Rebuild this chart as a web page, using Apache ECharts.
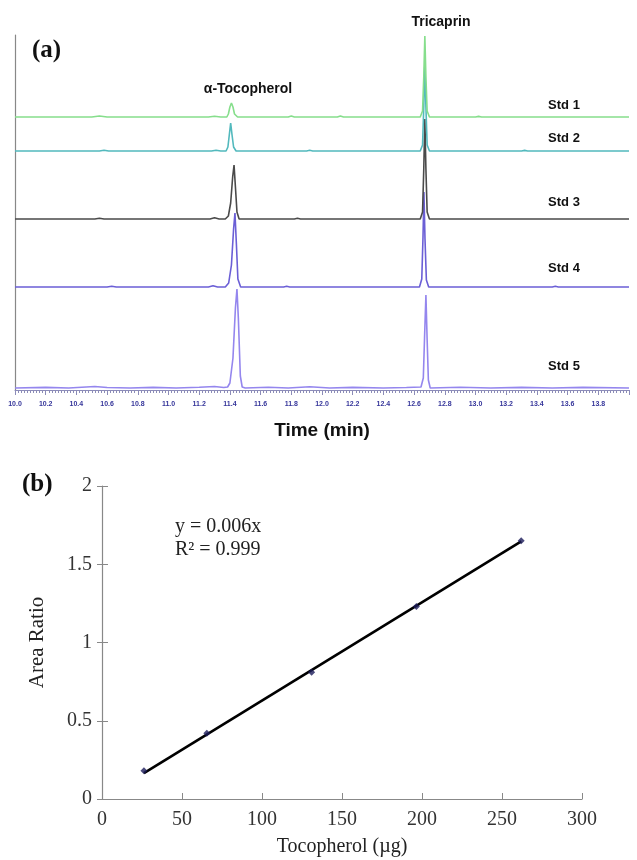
<!DOCTYPE html>
<html>
<head>
<meta charset="utf-8">
<script src="https://cdn.jsdelivr.net/npm/echarts@6/dist/echarts.min.js"></script>
<style>
html,body{margin:0;padding:0;background:#fff;}
#chart{width:637px;height:860px;}
</style>
</head>
<body>
<div id="chart"></div>
<script>
// ---------- (a) chromatogram data: [time (min), signal] ----------
const traceNames = ['Std 1', 'Std 2', 'Std 3', 'Std 4', 'Std 5'];
const traceOffsets = [273, 239, 171, 103, 2];
const std1Points = [[10.0,0],[10.5,0],[10.55,1],[10.6,0],[11.26,0],[11.3,0.8],[11.34,0],[11.38,0],[11.39,3],[11.40,10],[11.41,14],[11.42,10],[11.43,3],[11.45,0],[11.78,0],[11.8,1],[11.82,0],[12.1,0],[12.12,1],[12.14,0],[12.64,0],[12.655,6],[12.663,40],[12.67,81],[12.677,40],[12.685,6],[12.70,0],[13.0,0],[13.02,0.6],[13.04,0],[14.0,0]];
const std2Points = [[10.0,0],[10.55,0],[10.58,0.8],[10.61,0],[11.28,0],[11.31,0.8],[11.34,0],[11.375,0],[11.387,4],[11.396,16],[11.405,28],[11.414,16],[11.424,4],[11.44,0],[11.9,0],[11.92,0.7],[11.94,0],[12.64,0],[12.655,6],[12.663,44],[12.67,88],[12.677,44],[12.685,6],[12.70,0],[13.3,0],[13.32,0.6],[13.34,0],[14.0,0]];
const std3Points = [[10.0,0],[10.52,0],[10.55,0.8],[10.58,0],[11.27,0],[11.3,1.2],[11.33,0],[11.37,0],[11.39,3],[11.405,16],[11.418,42],[11.427,54],[11.436,32],[11.446,7],[11.46,0],[11.82,0],[11.84,0.8],[11.86,0],[12.64,0],[12.655,7],[12.663,50],[12.67,100],[12.677,50],[12.685,7],[12.70,0],[14.0,0]];
const std4Points = [[10.0,0],[10.6,0],[10.63,0.8],[10.66,0],[11.26,0],[11.29,1.2],[11.32,0],[11.37,0],[11.392,4],[11.41,22],[11.424,58],[11.433,74],[11.442,44],[11.452,8],[11.47,0],[11.75,0],[11.77,0.7],[11.79,0],[12.635,0],[12.65,8],[12.658,50],[12.664,95],[12.671,48],[12.68,7],[12.695,0],[13.5,0],[13.52,0.7],[13.54,0],[14.0,0]];
const std5Points = [[10.0,0],[10.2,0.6],[10.35,0],[10.52,1.5],[10.6,0.5],[10.75,0],[10.9,0.6],[11.05,0],[11.2,0.8],[11.3,1.5],[11.36,0.5],[11.385,1],[11.40,5],[11.42,30],[11.436,80],[11.446,99],[11.455,70],[11.468,12],[11.48,1],[11.5,0],[11.65,0.8],[11.78,0],[11.92,1.2],[12.05,0],[12.2,0.6],[12.4,0],[12.55,0.5],[12.645,1],[12.66,10],[12.668,50],[12.677,93],[12.685,48],[12.693,8],[12.705,0],[12.9,0.7],[13.1,0],[13.3,0.6],[13.5,0],[13.7,0.6],[14.0,0]];
const traceData = [std1Points, std2Points, std3Points, std4Points, std5Points];
const traceColors = ['#86de8c', '#52b9bd', '#4a4a4a', '#6b5fd6', '#9486ee'];
const timeTickLabels = ['10.0','10.2','10.4','10.6','10.8','11.0','11.2','11.4','11.6','11.8','12.0','12.2','12.4','12.6','12.8','13.0','13.2','13.4','13.6','13.8'];

// ---------- (b) calibration data ----------
const tocopherolUg = [26.2, 65.5, 131, 196.5, 262];
const areaRatio = [0.18, 0.42, 0.81, 1.23, 1.65];
const trendX = [26.2, 262];
const trendY = [0.165, 1.646];

const chart = echarts.init(document.getElementById('chart'), null, {renderer: 'canvas'});

const series = [];
traceData.forEach((pts, i) => {
  series.push({
    type: 'line', name: traceNames[i], xAxisIndex: 0, yAxisIndex: 0,
    data: pts.map(p => [p[0], p[1] + traceOffsets[i]]),
    showSymbol: false, symbol: 'none',
    lineStyle: {color: traceColors[i], width: 1.6},
    z: 10 - i
  });
});
series.push({
  type: 'line', xAxisIndex: 1, yAxisIndex: 1,
  data: trendX.map((x, i) => [x, trendY[i]]),
  showSymbol: false, symbol: 'none',
  lineStyle: {color: '#000', width: 2.6}, z: 5
});
series.push({
  type: 'scatter', xAxisIndex: 1, yAxisIndex: 1,
  data: tocopherolUg.map((x, i) => [x, areaRatio[i]]),
  symbol: 'diamond', symbolSize: 7,
  itemStyle: {color: '#1c1c5a'}, z: 6
});

const serif = 'Liberation Serif, Times New Roman, serif';
const sans = 'Liberation Sans, Arial, sans-serif';

const stdLabelY = [105, 138, 202, 268, 366];
const graphics = [
  {type: 'text', left: 32, top: 38, style: {text: '(a)', font: 'bold 25px ' + serif, fill: '#111'}},
  {type: 'text', left: 22, top: 472, style: {text: '(b)', font: 'bold 25px ' + serif, fill: '#111'}},
  {type: 'text', x: 248, y: 89, style: {text: 'α-Tocopherol', font: 'bold 14px ' + sans, fill: '#111', align: 'center', verticalAlign: 'middle'}},
  {type: 'text', x: 441, y: 22, style: {text: 'Tricaprin', font: 'bold 14px ' + sans, fill: '#111', align: 'center', verticalAlign: 'middle'}},
  {type: 'text', x: 175, y: 527, style: {text: 'y = 0.006x', font: '20px ' + serif, fill: '#222', verticalAlign: 'middle'}},
  {type: 'text', x: 175, y: 550, style: {text: 'R² = 0.999', font: '20px ' + serif, fill: '#222', verticalAlign: 'middle'}}
];
traceNames.forEach((n, i) => {
  graphics.push({type: 'text', x: 564, y: stdLabelY[i], style: {text: n, font: 'bold 13px ' + sans, fill: '#111', align: 'center', verticalAlign: 'middle'}});
});

const option = {
  animation: false,
  backgroundColor: '#fff',
  grid: [
    {left: 15, right: 8, top: 35, bottom: 470},
    {left: 102, right: 55, top: 486, bottom: 61}
  ],
  xAxis: [
    {
      type: 'value', gridIndex: 0, min: 10.0, max: 14.0, interval: 0.2,
      name: 'Time (min)', nameLocation: 'middle', nameGap: 31,
      nameTextStyle: {fontFamily: sans, fontWeight: 'bold', fontSize: 19, color: '#111'},
      axisLine: {show: true, lineStyle: {color: '#8c8cb8', width: 1}},
      axisTick: {show: true, length: 5, lineStyle: {color: '#8c8cb8'}},
      minorTick: {show: true, splitNumber: 10, length: 3, lineStyle: {color: '#8c8cb8'}},
      axisLabel: {
        margin: 11, fontSize: 7, fontWeight: 'bold', color: '#35359a', fontFamily: sans,
        showMaxLabel: false,
        formatter: v => timeTickLabels[Math.round((v - 10) / 0.2)] || ''
      },
      splitLine: {show: false}
    },
    {
      type: 'value', gridIndex: 1, min: 0, max: 300, interval: 50,
      name: 'Tocopherol (µg)', nameLocation: 'middle', nameGap: 38,
      nameTextStyle: {fontFamily: serif, fontSize: 20, color: '#222'},
      axisLine: {show: true, onZero: false, lineStyle: {color: '#888', width: 1.2}},
      axisTick: {show: true, inside: true, length: 6, lineStyle: {color: '#888'}},
      axisLabel: {margin: 11, fontSize: 20, fontFamily: serif, color: '#333'},
      splitLine: {show: false}
    }
  ],
  yAxis: [
    {
      type: 'value', gridIndex: 0, min: 0, max: 355,
      axisLine: {show: true, onZero: false, lineStyle: {color: '#888', width: 1.2}},
      axisTick: {show: false}, axisLabel: {show: false}, splitLine: {show: false}
    },
    {
      type: 'value', gridIndex: 1, min: 0, max: 2, interval: 0.5, position: 'left',
      name: 'Area Ratio', nameLocation: 'middle', nameGap: 54,
      nameTextStyle: {fontFamily: serif, fontSize: 21, color: '#222'},
      axisLine: {show: true, onZero: false, lineStyle: {color: '#888', width: 1.2}},
      axisTick: {show: true, inside: true, length: 6, lineStyle: {color: '#888'}},
      axisLabel: {margin: 10, fontSize: 20, fontFamily: serif, color: '#333'},
      splitLine: {show: false}
    },
    {
      type: 'value', gridIndex: 1, min: 0, max: 2, interval: 0.5, position: 'left',
      axisLine: {show: false},
      axisTick: {show: true, inside: false, length: 5, lineStyle: {color: '#888'}},
      axisLabel: {show: false}, splitLine: {show: false}
    }
  ],
  graphic: graphics,
  series: series
};
chart.setOption(option);
</script>
</body>
</html>
